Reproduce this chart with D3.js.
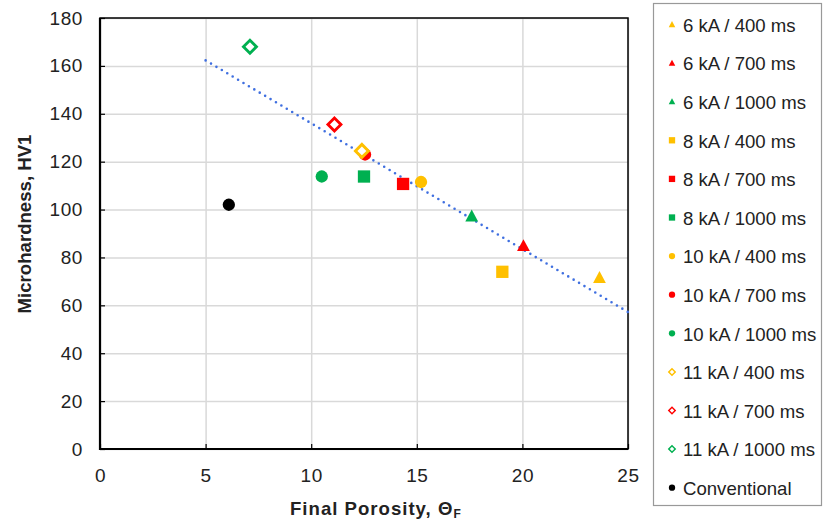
<!DOCTYPE html>
<html>
<head>
<meta charset="utf-8">
<script src="https://cdn.jsdelivr.net/npm/d3@7/dist/d3.min.js"></script>
<style>
  body { margin: 0; background: #fff; }
  svg { font-family: Arial, "Liberation Sans", sans-serif; }
</style>
</head>
<body>
<div id="chart"></div>
<script>
'use strict';

// series
const seriesNames = ['6 kA / 400 ms', '6 kA / 700 ms', '6 kA / 1000 ms',
  '8 kA / 400 ms', '8 kA / 700 ms', '8 kA / 1000 ms',
  '10 kA / 400 ms', '10 kA / 700 ms', '10 kA / 1000 ms',
  '11 kA / 400 ms', '11 kA / 700 ms', '11 kA / 1000 ms',
  'Conventional'];
const porosity = [23.65, 20.05, 17.6, 19.05, 14.35, 12.5, 15.2, 12.55, 10.5, 12.4, 11.1, 7.1, 6.1];
const hardness = [71.5, 84.8, 97.2, 74, 110.7, 113.8, 111.5, 123, 113.8, 124.5, 135.5, 168, 102];
const shapes = ['triangle', 'triangle', 'triangle', 'square', 'square', 'square',
  'circle', 'circle', 'circle', 'diamond', 'diamond', 'diamond', 'circle'];
const colors = ['#FFC000', '#FF0000', '#00B050', '#FFC000', '#FF0000', '#00B050',
  '#FFC000', '#FF0000', '#00B050', '#FFC000', '#FF0000', '#00B050', '#000000'];

// dotted trend line end points
const trendX = [5, 25];
const trendY = [162.3, 57.2];

const xTicks = [0, 5, 10, 15, 20, 25];
const yTicks = [0, 20, 40, 60, 80, 100, 120, 140, 160, 180];

const width = 824, height = 527;
const plot = {left: 100, top: 18, right: 628, bottom: 449};
const font = 'Arial, "Liberation Sans", sans-serif';

const svg = d3.select('#chart').append('svg')
  .attr('width', width)
  .attr('height', height);

const x = d3.scaleLinear().domain([0, 25]).range([plot.left, plot.right]);
const y = d3.scaleLinear().domain([0, 180]).range([plot.bottom, plot.top]);

// grid
svg.append('g')
  .attr('transform', `translate(0,${plot.bottom})`)
  .call(d3.axisBottom(x).tickValues(xTicks).tickSize(-(plot.bottom - plot.top)).tickFormat(''))
  .call(g => g.select('.domain').remove())
  .call(g => g.selectAll('line').attr('stroke', '#d9d9d9').attr('stroke-width', 1.5));
svg.append('g')
  .attr('transform', `translate(${plot.left},0)`)
  .call(d3.axisLeft(y).tickValues(yTicks).tickSize(-(plot.right - plot.left)).tickFormat(''))
  .call(g => g.select('.domain').remove())
  .call(g => g.selectAll('line').attr('stroke', '#d9d9d9').attr('stroke-width', 1.5));

// inner tick marks + labels
svg.append('g')
  .attr('transform', `translate(0,${plot.bottom})`)
  .call(d3.axisBottom(x).tickValues(xTicks).tickSize(-5).tickPadding(20))
  .call(g => g.select('.domain').remove())
  .call(g => g.selectAll('line').attr('stroke', '#000').attr('stroke-width', 1.2))
  .call(g => g.selectAll('text').attr('font-size', 19).attr('fill', '#222')
    .attr('letter-spacing', 0.6).attr('font-family', font));
svg.append('g')
  .attr('transform', `translate(${plot.left},0)`)
  .call(d3.axisLeft(y).tickValues(yTicks).tickSize(-5).tickPadding(17))
  .call(g => g.select('.domain').remove())
  .call(g => g.selectAll('line').attr('stroke', '#000').attr('stroke-width', 1.2))
  .call(g => g.selectAll('text').attr('font-size', 19).attr('fill', '#222')
    .attr('letter-spacing', 0.6).attr('font-family', font));

// frame
svg.append('rect')
  .attr('x', plot.left).attr('y', plot.top)
  .attr('width', plot.right - plot.left).attr('height', plot.bottom - plot.top)
  .attr('fill', 'none').attr('stroke', '#000').attr('stroke-width', 1.5);
svg.append('path')
  .attr('d', `M${plot.left},${plot.top}V${plot.bottom}H${plot.right}`)
  .attr('fill', 'none').attr('stroke', '#000').attr('stroke-width', 2.2);

// trend line
svg.append('path')
  .datum(trendX.map((d, i) => [d, trendY[i]]))
  .attr('d', d3.line().x(d => x(d[0])).y(d => y(d[1])))
  .attr('fill', 'none')
  .attr('stroke', '#3f6fe0')
  .attr('stroke-width', 2.6)
  .attr('stroke-linecap', 'round')
  .attr('stroke-dasharray', '0 6.3');

function marker(sel, shape, color, s) {
  if (shape === 'diamond') {
    sel.append('path')
      .attr('d', d3.symbol(d3.symbolSquare, s * s * 0.5)())
      .attr('transform', 'rotate(45)')
      .attr('fill', '#fff')
      .attr('stroke', color)
      .attr('stroke-width', s * 0.22);
  } else if (shape === 'triangle') {
    sel.append('path')
      .attr('d', `M0,${-s * 0.55}L${s * 0.52},${s * 0.42}L${-s * 0.52},${s * 0.42}Z`)
      .attr('fill', color);
  } else if (shape === 'square') {
    sel.append('rect')
      .attr('x', -s / 2).attr('y', -s / 2).attr('width', s).attr('height', s)
      .attr('fill', color);
  } else {
    sel.append('circle').attr('r', s / 2).attr('fill', color);
  }
}

const pts = svg.append('g');
seriesNames.forEach((name, i) => {
  const g = pts.append('g').attr('transform', `translate(${x(porosity[i])},${y(hardness[i])})`);
  marker(g, shapes[i], colors[i], shapes[i] === 'diamond' ? 13 : 12.3);
});

// axis titles
svg.append('text')
  .attr('x', 290)
  .attr('y', 515)
  .attr('font-size', 18.6).attr('font-weight', 'bold').attr('fill', '#222')
  .attr('letter-spacing', 1)
  .text('Final Porosity, Θ')
  .append('tspan').attr('font-size', 12).attr('dy', 3).text('F');
svg.append('text')
  .attr('transform', `translate(31,224) rotate(-90)`)
  .attr('text-anchor', 'middle')
  .attr('font-size', 18.6).attr('font-weight', 'bold').attr('fill', '#222')
  .text('Microhardness, HV1');

// legend
const leg = svg.append('g');
leg.append('rect')
  .attr('x', 653.5).attr('y', 3.5).attr('width', 168).attr('height', 502)
  .attr('fill', '#fff').attr('stroke', '#999').attr('stroke-width', 1.2);
seriesNames.forEach((name, i) => {
  const cy = 24.5 + i * 38.6;
  const g = leg.append('g').attr('transform', `translate(672,${cy})`);
  marker(g, shapes[i], colors[i], shapes[i] === 'diamond' ? 6.5 : 6.3);
  leg.append('text')
    .attr('x', 683).attr('y', cy + 7.2)
    .attr('font-size', 18.6).attr('fill', '#222')
    .text(name);
});
</script>
</body>
</html>
